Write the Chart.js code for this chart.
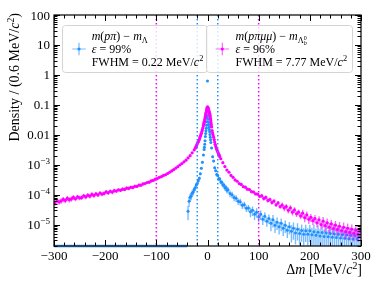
<!DOCTYPE html>
<html><head><meta charset="utf-8">
<script src="https://cdn.jsdelivr.net/npm/chart.js@4/dist/chart.umd.min.js"></script>
<style>html,body{margin:0;padding:0;background:#fff;overflow:hidden}#wrap{width:381px;height:287px}</style>
</head><body><div id="wrap"><canvas id="c" width="381" height="287"></canvas></div>
<script>
// ---------- data ----------
const xTickValues = [-300, -200, -100, 0, 100, 200, 300];
const xTickLabels = ['\u2212300', '\u2212200', '\u2212100', '0', '100', '200', '300'];
const yTickValues = [100, 10, 1, 0.1, 0.01, 1e-3, 1e-4, 1e-5];
const yTickBase = ['100', '10', '1', '0.1', '0.01', '10', '10', '10'];
const yTickExp = ['', '', '', '', '', '\u22123', '\u22124', '\u22125'];
const xMin = -300, xMax = 300;
const yMin = 1.93e-6, yMax = 100;
const magentaWindow = [-100, 100];
const blueWindow = [-20, 20];

const magentaX = [
-298,-294,-290,-286,-282,-278,-274,-270,-266,-262,-258,-254,-250,-246,-242,-238,-234,-230,-226,-222,
-218,-214,-210,-206,-202,-198,-194,-190,-186,-182,-178,-174,-170,-166,-162,-158,-154,-150,-146,-142,
-138,-134,-130,-126,-122,-118,-114,-110,-106,-102,-98,-94,-90,-86,-82,-78,-74,-70,-66,-62,
-58,-54,-50,-46,-42,-38,-34,-30,-26,
-24,-23,-22,-21,-20,-19,-18,-17,-16,-15,-14,-13,-12,-11,-10,-9,
-8,-7.5,-7,-6.5,-6,-5.5,-5,-4.5,-4,-3.5,-3,-2.5,-2,-1.5,-1,-0.5,0,0.5,1,1.5,2,2.5,3,3.5,4,4.5,5,5.5,6,6.5,7,7.5,8,
9,10,11,12,13,14,15,16,17,18,19,20,21,22,23,24,
26,30,34,38,42,46,50,54,58,62,66,70,74,78,82,86,90,94,98,102,
106,110,114,118,122,126,130,134,138,142,146,150,154,158,162,166,170,174,178,182,
186,190,194,198,202,206,210,214,218,222,226,230,234,238,242,246,250,254,258,262,
266,270,274,278,282,286,290,294,298];
const magentaY = [
5.4e-5,6.3e-5,5.7e-5,6.2e-5,7.0e-5,6.4e-5,7.5e-5,6.8e-5,7.2e-5,8.1e-5,
7.3e-5,8.5e-5,7.8e-5,8.0e-5,9.2e-5,8.4e-5,9.6e-5,8.9e-5,1.02e-4,9.4e-5,
1.06e-4,9.8e-5,1.13e-4,1.05e-4,1.1e-4,1.24e-4,1.15e-4,1.3e-4,1.22e-4,1.36e-4,
1.32e-4,1.46e-4,1.4e-4,1.53e-4,1.5e-4,1.66e-4,1.62e-4,1.76e-4,1.74e-4,1.9e-4,
1.88e-4,2.08e-4,2.08e-4,2.28e-4,2.36e-4,2.55e-4,2.62e-4,2.88e-4,3.0e-4,3.28e-4,
3.45e-4,3.78e-4,3.98e-4,4.38e-4,4.62e-4,5.1e-4,5.6e-4,6.2e-4,6.9e-4,7.7e-4,
8.6e-4,9.8e-4,1.1e-3,1.25e-3,1.42e-3,1.68e-3,2.0e-3,2.5e-3,3.1e-3,
3.55e-3,3.8e-3,4.17e-3,4.57e-3,5.0e-3,5.5e-3,5.9e-3,6.5e-3,7.1e-3,7.9e-3,8.9e-3,0.01,0.0112,0.0129,0.0148,0.017,
0.02,0.0219,0.024,0.0257,0.0282,0.0309,0.0339,0.038,0.0417,0.0468,0.0513,0.0562,0.063,0.069,0.076,0.081,0.085,
0.083,0.079,0.074,0.069,0.065,0.06,0.056,0.052,0.048,0.0437,0.039,0.0339,0.0295,0.0251,0.0214,0.0182,
0.0138,0.0115,9.8e-3,8.3e-3,6.9e-3,5.75e-3,4.8e-3,4.2e-3,3.7e-3,3.3e-3,2.95e-3,2.7e-3,2.45e-3,2.24e-3,2.04e-3,1.86e-3,
1.58e-3,1.17e-3,8.7e-4,6.6e-4,5.6e-4,4.4e-4,3.8e-4,3.1e-4,2.8e-4,2.35e-4,2.2e-4,1.85e-4,1.78e-4,1.52e-4,1.48e-4,1.26e-4,1.22e-4,1.06e-4,1.04e-4,8.8e-5,
9.2e-5,7.5e-5,8.1e-5,6.4e-5,6.9e-5,5.5e-5,6.1e-5,4.6e-5,5.3e-5,4.0e-5,4.5e-5,3.6e-5,4.0e-5,3.0e-5,3.6e-5,2.6e-5,3.1e-5,2.3e-5,2.6e-5,1.95e-5,
2.4e-5,1.7e-5,2.1e-5,1.5e-5,1.75e-5,1.35e-5,1.6e-5,1.15e-5,1.45e-5,1.0e-5,1.3e-5,9.2e-6,1.15e-5,8.2e-6,1.05e-5,7.4e-6,9.6e-6,6.9e-6,8.8e-6,6.3e-6,
8.1e-6,5.8e-6,7.5e-6,5.5e-6,7.0e-6,5.1e-6,6.5e-6,4.8e-6,6.1e-6];
const magentaRelErr = [
.2,.2,.2,.2,.2,.2,.2,.2,.2,.2, .17,.17,.17,.17,.17,.17,.17,.17,.17,.17,
.15,.15,.15,.15,.15,.15,.15,.15,.15,.15, .13,.13,.13,.13,.13,.13,.13,.13,.13,.13,
.11,.11,.11,.11,.11,.11,.11,.11,.11,.11, .08,.08,.08,.08,.08,.08,.08,.08,.08,.08,
.05,.05,.05,.05,.05,.05,.05,.05,.05,
.03,.03,.03,.03,.03,.03,.03,.03,.03,.03,.03,.03,.03,.03,.03,.03,
.02,.02,.02,.02,.02,.02,.02,.02,.02,.02,.02,.02,.02,.02,.02,.02,.02,
.02,.02,.02,.02,.02,.02,.02,.02,.02,.02,.02,.02,.02,.02,.02,.02,
.03,.03,.03,.03,.03,.03,.03,.03,.03,.03,.03,.03,.03,.03,.03,.03,
.06,.06,.06,.06,.06,.06,.06,.06,.06,.06, .1,.1,.1,.1,.1,.1,.1,.1,.1,.1,
.16,.16,.16,.16,.16,.16,.16,.16,.16,.16, .22,.22,.22,.22,.22,.22,.22,.22,.22,.22,
.3,.3,.3,.3,.3,.3,.3,.3,.3,.3, .38,.38,.38,.38,.38,.38,.38,.38,.38,.38,
.45,.45,.45,.45,.45,.45,.45,.45,.45];

const blueX = [
-38,-36,-34,-32,-30,-28,-26,-24,-22,-20,-18,-16,-14,-12,-10,-8,
-6.6,-6,-5.4,-4.8,-4.2,-3.6,-3,-2.4,-1.8,-1.2,-0.6,0,0.6,1.2,1.8,2.4,3,3.6,4.2,4.8,5.4,6,6.6,
8,10,12,14,16,18,20,22,24,26,28,30,32,34,36,38,40,
44,48,52,56,60,64,68,72,76,80,84,88,92,96,100,104,108,112,116,120,
124,128,132,136,140,144,148,152,156,160,164,168,172,176,180,184,188,192,196,200,
204,208,212,216,220,224,228,232,236,240,244,248,252,256,260,264,268,272,276,280,
284,288,292,296];
const blueY = [
2.8e-5,6.0e-5,8.2e-5,9.0e-5,1.12e-4,1.22e-4,1.5e-4,1.7e-4,2.1e-4,2.35e-4,2.9e-4,3.5e-4,5.0e-4,7.6e-4,1.2e-3,2.1e-3,
3.2e-3,3.8e-3,4.8e-3,6.3e-3,8.7e-3,0.011,0.0135,0.0166,0.021,0.027,0.038,0.63,0.0437,0.033,0.026,0.022,0.018,0.015,0.0126,0.0102,8.3e-3,6.8e-3,5.5e-3,
3.6e-3,1.85e-3,1.32e-3,7.9e-4,6.3e-4,4.7e-4,4.4e-4,3.4e-4,3.35e-4,2.65e-4,2.6e-4,2.1e-4,2.1e-4,1.7e-4,1.75e-4,1.4e-4,1.45e-4,
1.1e-4,1.0e-4,8.0e-5,7.6e-5,6.0e-5,5.8e-5,4.4e-5,4.6e-5,3.5e-5,3.6e-5,2.7e-5,3.0e-5,2.2e-5,2.6e-5,1.8e-5,2.2e-5,1.5e-5,1.9e-5,1.3e-5,1.6e-5,
1.1e-5,1.45e-5,9.5e-6,1.2e-5,8.5e-6,1.1e-5,7.5e-6,9.5e-6,6.5e-6,8.5e-6,6.0e-6,7.5e-6,5.2e-6,7.0e-6,5.0e-6,6.4e-6,4.8e-6,6.2e-6,4.8e-6,6.2e-6,
4.6e-6,5.8e-6,4.4e-6,5.6e-6,4.2e-6,5.4e-6,4.0e-6,5.2e-6,3.9e-6,5.0e-6,3.8e-6,4.9e-6,3.7e-6,4.8e-6,3.6e-6,4.6e-6,3.5e-6,4.5e-6,3.4e-6,4.4e-6,
3.3e-6,4.3e-6,3.3e-6,4.2e-6];
const blueRelErr = [
.5,.35,.3,.28,.25,.23,.21,.2,.18,.17,.15,.13,.11,.09,.07,.06,
.04,.04,.04,.04,.04,.04,.04,.04,.04,.04,.04,.008,.04,.04,.04,.04,.04,.04,.04,.04,.04,.04,.04,
.06,.07,.08,.09,.1,.12,.13,.14,.15,.16,.17,.18,.19,.2,.21,.22,.22,
.25,.25,.25,.25,.25,.25,.25,.25,.25,.25, .35,.35,.35,.35,.35,.35,.35,.35,.35,.35,
.45,.45,.45,.45,.45,.45,.45,.45,.45,.45, .58,.58,.58,.58,.58,.58,.58,.58,.58,.58,
.7,.7,.7,.7,.7,.7,.7,.7,.7,.7, .8,.8,.8,.8,.8,.8,.8,.8,.8,.8,
.8,.8,.8,.8];
// empty (zero-count) blue bins, shown on the floor of the log axis
const blueZeroX = [
-298,-294,-290,-286,-282,-278,-274,-270,-266,-262,-258,-254,-250,-246,-242,-238,-234,-230,-226,-222,
-218,-214,-210,-206,-202,-198,-194,-190,-186,-182,-178,-174,-170,-166,-162,-158,-154,-150,-146,-142,
-138,-134,-130,-126,-122,-118,-114,-110,-106,-102,-98,-94,-90,-86,-82,-78,-74,-70,-66,-62,
-58,-54,-50,-46,-42];

// ---------- styling ----------
const BLUE = '#1e90ff', BLUE_ERR = 'rgba(30,144,255,0.6)';
const MAG = '#ff00ff', MAG_ERR = 'rgba(255,0,255,0.6)';
const FONT = '"Liberation Serif","Times New Roman",serif';

function rich(ctx, x, y, parts, size, align) {
  const segs = parts.map(p => {
    const fs = size * (p.s || 1);
    const font = (p.i ? 'italic ' : '') + fs + 'px ' + FONT;
    ctx.font = font;
    const w = ctx.measureText(p.t).width;
    return {t: p.t, font, w, dy: (p.dy || 0) * size, noAdv: p.noAdv};
  });
  let total = 0;
  segs.forEach(s => { if (!s.noAdv) total += s.w; });
  let cx = align === 'right' ? x - total : align === 'center' ? x - total / 2 : x;
  ctx.textAlign = 'left';
  ctx.textBaseline = 'alphabetic';
  for (const s of segs) {
    ctx.font = s.font;
    ctx.fillText(s.t, cx, y + s.dy);
    if (!s.noAdv) cx += s.w;
  }
  return total;
}

const legendLeft = [
  [{t:'m',i:1},{t:'('},{t:'p',i:1},{t:'\u03c0',i:1},{t:')'},{t:' \u2212 '},{t:'m',i:1},{t:'\u039b',s:0.7,dy:0.22}],
  [{t:'\u03b5',i:1},{t:' = 99%'}],
  [{t:'FWHM = 0.22 MeV/'},{t:'c',i:1},{t:'2',s:0.7,dy:-0.38}]
];
const legendRight = [
  [{t:'m',i:1},{t:'('},{t:'p',i:1},{t:'\u03c0',i:1},{t:'\u03bc',i:1},{t:'\u03bc',i:1},{t:')'},{t:' \u2212 '},{t:'m',i:1},
   {t:'\u039b',s:0.7,dy:0.22},{t:'0',s:0.5,dy:0.02,noAdv:1},{t:'b',i:1,s:0.5,dy:0.4}],
  [{t:'\u03b5',i:1},{t:' = 96%'}],
  [{t:'FWHM = 7.77 MeV/'},{t:'c',i:1},{t:'2',s:0.7,dy:-0.38}]
];

function drawLegendBox(ctx, bx, by, bw, bh, mx, tx, color, ecolor, lines) {
  ctx.save();
  ctx.beginPath();
  ctx.roundRect(bx + 0.5, by + 0.5, bw, bh, 3);
  ctx.fillStyle = 'rgba(255,255,255,0.8)';
  ctx.fill();
  ctx.strokeStyle = '#d4d4d4';
  ctx.lineWidth = 1;
  ctx.stroke();
  const my = 49;
  ctx.strokeStyle = ecolor; ctx.lineWidth = 1.2;
  ctx.beginPath();
  ctx.moveTo(mx - 6.7, my); ctx.lineTo(mx + 6.7, my);
  ctx.moveTo(mx, my - 6.2); ctx.lineTo(mx, my + 6.2);
  ctx.stroke();
  ctx.fillStyle = color;
  ctx.beginPath(); ctx.arc(mx, my, 1.6, 0, Math.PI * 2); ctx.fill();
  ctx.fillStyle = '#000';
  const base = [40, 53, 65.7];
  lines.forEach((ln, k) => rich(ctx, tx, base[k], ln, 12, 'left'));
  ctx.restore();
}

const decor = {
  id: 'decor',
  beforeDatasetDraw(chart, args) {
    const ds = chart.data.datasets[args.index];
    if (!ds.relErr) return;
    const {ctx, chartArea: a, scales: {x: xs, y: ys}} = chart;
    ctx.save();
    ctx.beginPath(); ctx.rect(a.left, a.top, a.right - a.left, a.bottom - a.top); ctx.clip();
    ctx.strokeStyle = ds.errColor; ctx.lineWidth = 1.4;
    ctx.beginPath();
    ds.data.forEach((p, i) => {
      const e = ds.relErr[i];
      const px = xs.getPixelForValue(p.x);
      const hi = ys.getPixelForValue(p.y * (1 + e));
      const loV = p.y * (1 - e);
      const lo = loV > yMin ? ys.getPixelForValue(loV) : a.bottom;
      ctx.moveTo(px, lo); ctx.lineTo(px, hi);
    });
    ctx.stroke();
    ctx.restore();
  },
  afterDatasetsDraw(chart) {
    const {ctx, chartArea: a, scales: {x: xs, y: ys}} = chart;
    // dotted window lines
    ctx.save();
    ctx.beginPath(); ctx.rect(a.left, a.top, a.right - a.left, a.bottom - a.top); ctx.clip();
    ctx.lineWidth = 1.5; ctx.setLineDash([1.5, 2.5]);
    const vline = (v, c) => {
      const px = xs.getPixelForValue(v);
      ctx.strokeStyle = c; ctx.beginPath(); ctx.moveTo(px, a.top); ctx.lineTo(px, a.bottom); ctx.stroke();
    };
    magentaWindow.forEach(v => vline(v, MAG));
    blueWindow.forEach(v => vline(v, BLUE));
    ctx.restore();

    // frame
    ctx.save();
    ctx.strokeStyle = '#000'; ctx.lineWidth = 1.2;
    ctx.strokeRect(a.left, a.top, a.right - a.left, a.bottom - a.top);
    ctx.lineWidth = 1;
    ctx.beginPath();
    for (let v = xMin; v <= xMax; v += 20) {
      const major = xTickValues.includes(v);
      const L = major ? 6 : 3.5;
      const px = Math.round(xs.getPixelForValue(v)) + 0.5;
      ctx.moveTo(px, a.bottom); ctx.lineTo(px, a.bottom - L);
      ctx.moveTo(px, a.top); ctx.lineTo(px, a.top + L);
    }
    for (let d = -6; d <= 2; d++) {
      for (let k = 1; k <= 9; k++) {
        const v = k * Math.pow(10, d);
        if (v < yMin || v > yMax * 1.0001) continue;
        const L = k === 1 ? 6 : 3.5;
        const py = Math.round(ys.getPixelForValue(v)) + 0.5;
        ctx.moveTo(a.left, py); ctx.lineTo(a.left + L, py);
        ctx.moveTo(a.right, py); ctx.lineTo(a.right - L, py);
      }
    }
    ctx.stroke();

    // tick labels
    ctx.fillStyle = '#000';
    xTickValues.forEach((v, i) => {
      rich(ctx, xs.getPixelForValue(v), a.bottom + 13.5, [{t: xTickLabels[i]}], 13, 'center');
    });
    yTickValues.forEach((v, i) => {
      const py = ys.getPixelForValue(v);
      const parts = [{t: yTickBase[i]}];
      if (yTickExp[i]) parts.push({t: yTickExp[i], s: 0.7, dy: -0.4});
      rich(ctx, a.left - 4, py + 4.5, parts, 13, 'right');
    });

    // axis titles
    rich(ctx, a.right + 1, 274, [{t:'\u0394'},{t:'m',i:1},{t:' [MeV/'},{t:'c',i:1},{t:'2',s:0.7,dy:-0.38},{t:']'}], 14, 'right');
    ctx.save();
    ctx.translate(19, 13);
    ctx.rotate(-Math.PI / 2);
    rich(ctx, 0, 0, [{t:'Density / (0.6 MeV/'},{t:'c',i:1},{t:'2',s:0.7,dy:-0.38},{t:')'}], 14, 'right');
    ctx.restore();

    // legends
    drawLegendBox(ctx, 62, 25, 145, 47, 79, 91.7, BLUE, BLUE_ERR, legendLeft);
    drawLegendBox(ctx, 206, 25, 146, 47, 222.3, 235.5, MAG, MAG_ERR, legendRight);
    ctx.restore();
  }
};

const toPts = (xa, ya) => xa.map((x, i) => ({x, y: ya[i]}));

new Chart(document.getElementById('c'), {
  type: 'scatter',
  data: {
    datasets: [
      {label: 'magenta', data: toPts(magentaX, magentaY), relErr: magentaRelErr, errColor: MAG_ERR,
       backgroundColor: MAG, pointRadius: 1.6, pointBorderWidth: 0, order: 0},
      {label: 'blue', data: toPts(blueX, blueY), relErr: blueRelErr, errColor: BLUE_ERR,
       backgroundColor: BLUE, pointRadius: 1.5, pointBorderWidth: 0, order: 1},
      {label: 'blue empty', data: blueZeroX.map(x => ({x, y: yMin})), clip: false,
       backgroundColor: '#63b1ff', pointRadius: 1.6, pointBorderWidth: 0, order: 2}
    ]
  },
  options: {
    responsive: false, animation: false, devicePixelRatio: 1,
    layout: {padding: {left: 54, right: 20, top: 15, bottom: 41}},
    plugins: {legend: {display: false}, tooltip: {enabled: false}},
    events: [],
    scales: {
      x: {type: 'linear', min: xMin, max: xMax, grid: {display: false}, border: {display: false},
          ticks: {display: false}, afterFit: s => { s.height = 0; }},
      y: {type: 'logarithmic', min: yMin, max: yMax, grid: {display: false}, border: {display: false},
          ticks: {display: false}, afterFit: s => { s.width = 0; }}
    }
  },
  plugins: [decor]
});
</script>
</body></html>
